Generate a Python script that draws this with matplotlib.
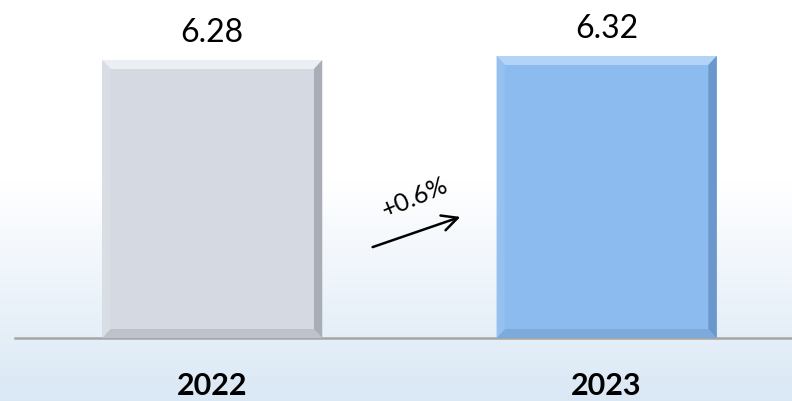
import numpy as np
import matplotlib
matplotlib.use("Agg")
import matplotlib.pyplot as plt
from matplotlib.patches import Polygon
from matplotlib.colors import LinearSegmentedColormap

plt.rcParams['font.family'] = ['Lato', 'DejaVu Sans']

# data
years = ["2022", "2023"]
values = [6.28, 6.32]
change_label = "+0.6%"

# styling
base = 3.5
bar_width = 0.558
face = ["#D5DAE2", "#8BBBEF"]
light = ["#EBEEF3", "#B3D4F6"]
side_light = ["#D9DDE4", "#95C1F0"]
dark = ["#A9AEB6", "#6B97CC"]
bottom_dark = ["#BEC2CA", "#7EAADB"]

fig = plt.figure(figsize=(7.92, 4.02), dpi=100)

# background gradient (white -> light blue)
bg = fig.add_axes([0, 0, 1, 1], zorder=0)
grad = np.linspace(0, 1, 400)
grad = np.clip((grad - 0.45) / 0.55, 0, 1)
grad = grad[:, None]
cmap = LinearSegmentedColormap.from_list("bg", ["#FFFFFF", "#DAE8F5"])
bg.imshow(grad, aspect="auto", cmap=cmap, extent=[0, 1, 0, 1], origin="upper")
bg.axis("off")

ax = fig.add_axes([15 / 792, 63 / 402, 777 / 792, 339 / 402], zorder=1)
ax.patch.set_alpha(0)

x = np.arange(len(years))
bars = ax.bar(x, [v - base for v in values], bottom=base, width=bar_width,
              color=face, linewidth=0, zorder=2)

ax.set_xlim(-0.5, 1.47)
ax.set_ylim(base, 6.89)

# bevel edges
dx, dy = 0.021, 0.09
for i, b in enumerate(bars):
    x0, y0 = b.get_x(), b.get_y()
    x1, y1 = x0 + b.get_width(), y0 + b.get_height()
    polys = [
        ([(x0, y1), (x1, y1), (x1 - dx, y1 - dy), (x0 + dx, y1 - dy)], light[i]),
        ([(x0, y0), (x1, y0), (x1 - dx, y0 + dy), (x0 + dx, y0 + dy)], bottom_dark[i]),
        ([(x0, y0), (x0, y1), (x0 + dx, y1 - dy), (x0 + dx, y0 + dy)], side_light[i]),
        ([(x1, y0), (x1, y1), (x1 - dx, y1 - dy), (x1 - dx, y0 + dy)], dark[i]),
    ]
    for pts, c in polys:
        ax.add_patch(Polygon(pts, closed=True, facecolor=c, edgecolor="none", zorder=3))
    ax.annotate(f"{values[i]:.2f}", (b.get_x() + b.get_width() / 2, y1),
                xytext=(0, 9), textcoords="offset points",
                ha="center", va="bottom", fontsize=23, color="black")

for s in ["top", "right", "left"]:
    ax.spines[s].set_visible(False)
ax.spines["bottom"].set_color("#A6A6A6")
ax.spines["bottom"].set_linewidth(1.8)
ax.set_yticks([])
ax.set_xticks(x)
ax.set_xticklabels(years, fontsize=22, fontweight="bold")
ax.tick_params(axis="x", length=0, pad=24)

# change arrow
ax.annotate("", xy=(463 / 792, 1 - 217 / 402), xytext=(370 / 792, 1 - 249 / 402),
            xycoords="figure fraction", textcoords="figure fraction",
            arrowprops=dict(arrowstyle="->", color="black", lw=1.8,
                            mutation_scale=28))
fig.text(415 / 792, 1 - 197 / 402, change_label, rotation=23, fontsize=18,
         ha="center", va="center")

fig.savefig("out.png", dpi=100)
